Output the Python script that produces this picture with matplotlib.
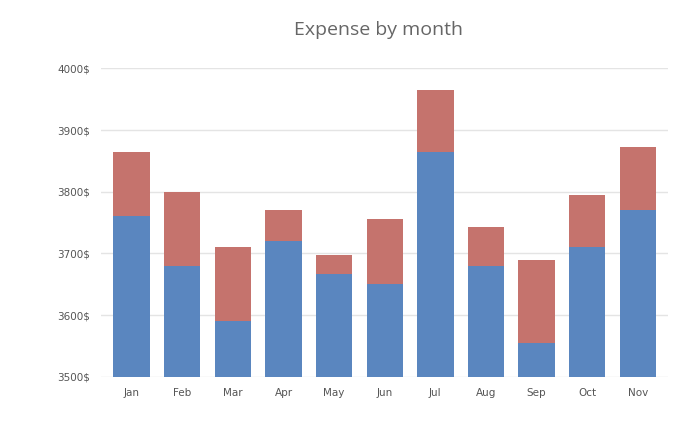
import matplotlib
matplotlib.use("Agg")
import matplotlib.pyplot as plt
import numpy as np

months = ["Jan", "Feb", "Mar", "Apr", "May", "Jun", "Jul", "Aug", "Sep", "Oct", "Nov"]
base_expense = [3760, 3680, 3590, 3720, 3667, 3650, 3865, 3680, 3555, 3710, 3770]
extra_expense = [105, 120, 120, 50, 30, 105, 100, 62, 135, 85, 103]
y_ticks = [3500, 3600, 3700, 3800, 3900, 4000]
y_labels = ["3500$", "3600$", "3700$", "3800$", "3900$", "4000$"]

blue = "#5A86BF"
red = "#C5736D"

fig = plt.figure(figsize=(6.75, 4.28), dpi=100)
fig.patch.set_facecolor("white")
ax = fig.add_axes([0.15, 0.12, 0.84, 0.72])

x = np.arange(len(months))
blue_h = [b - 3500 for b in base_expense]
ax.bar(x, blue_h, bottom=3500, width=0.72, color=blue, zorder=3)
ax.bar(x, extra_expense, bottom=base_expense, width=0.72, color=red, zorder=3)

ax.set_ylim(3500, 4000)
ax.set_xlim(-0.6, len(months) - 0.4)
ax.set_yticks(y_ticks)
ax.set_yticklabels(y_labels)
ax.set_xticks(x)
ax.set_xticklabels(months)
ax.tick_params(axis="both", length=0, colors="#555555", labelsize=7.5, pad=8)
ax.grid(axis="y", color="#e4e4e4", linewidth=1, zorder=0)
for s in ax.spines.values():
    s.set_visible(False)

fig.text(0.56, 0.93, "Expense by month", ha="center", va="center",
         fontsize=14, color="#666666", family=["Open Sans", "DejaVu Sans"])

fig.savefig("out.png", dpi=100, facecolor=fig.get_facecolor())
